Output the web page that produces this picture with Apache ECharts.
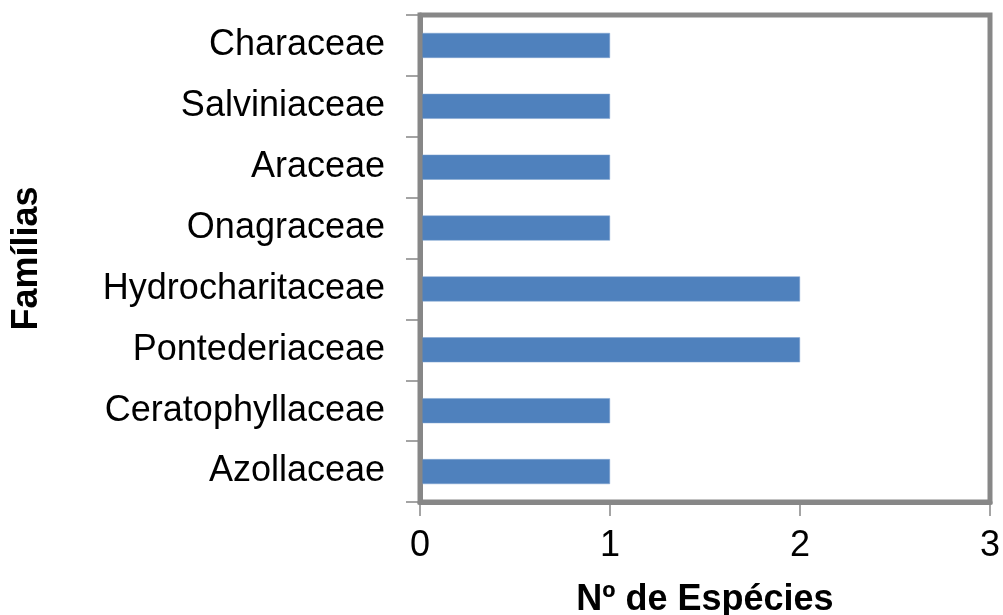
<!DOCTYPE html>
<html><head><meta charset="utf-8">
<script src="https://cdn.jsdelivr.net/npm/echarts@6/dist/echarts.min.js"></script>
<style>html,body{margin:0;padding:0;background:#fff}#c{width:1003px;height:615px}</style>
</head><body><div id="c"></div>
<script>
const families = ['Azollaceae','Ceratophyllaceae','Pontederiaceae','Hydrocharitaceae','Onagraceae','Araceae','Salviniaceae','Characeae'];
const species = [1,1,2,2,1,1,1,1];
const xTicks = {min:0, max:3, interval:1};
const FONT = '"Liberation Sans", Arial, sans-serif';
const chart = echarts.init(document.getElementById('c'), null, {renderer:'canvas'});
chart.setOption({
  animation:false,
  grid:{left:420, right:13, top:15, bottom:113, containLabel:false, outerBoundsMode:'none', show:true, borderColor:'#878787', borderWidth:5, backgroundColor:'transparent', z:3},
  xAxis:{type:'value', min:xTicks.min, max:xTicks.max, interval:xTicks.interval,
    name:'Nº de Espécies', nameLocation:'middle', nameGap:80,
    nameTextStyle:{fontFamily:FONT, fontSize:36, fontWeight:'bold', color:'#000', verticalAlign:'top'},
    axisLine:{show:true, lineStyle:{color:'#878787', width:5}},
    axisTick:{show:true, length:14, lineStyle:{color:'#878787', width:1.5}},
    axisLabel:{fontFamily:FONT, fontSize:36, color:'#000', margin:26},
    splitLine:{show:false}},
  yAxis:{type:'category', data:families,
    name:'Famílias', nameLocation:'middle', nameGap:375, nameRotate:90,
    nameTextStyle:{fontFamily:FONT, fontSize:36, fontWeight:'bold', color:'#000', verticalAlign:'bottom'},
    axisLine:{show:true, lineStyle:{color:'#878787', width:5}},
    axisTick:{show:true, length:14, lineStyle:{color:'#878787', width:1.5}},
    axisLabel:{fontFamily:FONT, fontSize:36, color:'#000', margin:35}},
  series:[{type:'bar', data:species, barWidth:25, itemStyle:{color:'#4F81BD', borderColor:'#7FA3D0', borderWidth:0.5}}]
});
</script></body></html>
